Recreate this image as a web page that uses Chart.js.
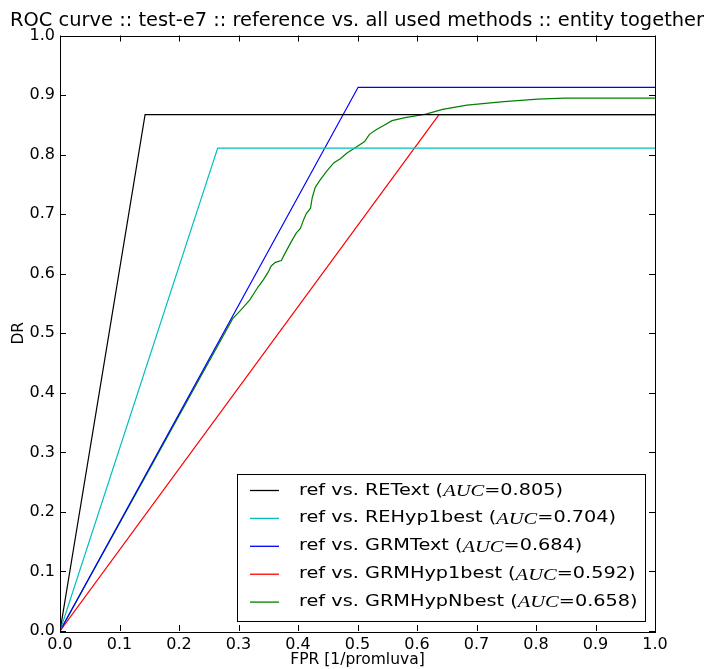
<!DOCTYPE html>
<html>
<head>
<meta charset="utf-8">
<script src="https://cdn.jsdelivr.net/npm/chart.js@4.4.1/dist/chart.umd.min.js"></script>
<style>
html,body{margin:0;padding:0;background:#fff;}
#wrap{width:704px;height:669px;}
</style>
</head>
<body>
<div id="wrap"><canvas id="c" width="704" height="669"></canvas></div>
<script>
// ---- data ----
const titleText = "ROC curve :: test-e7 :: reference vs. all used methods :: entity together";
const xAxisLabel = "FPR [1/promluva]";
const yAxisLabel = "DR";
const seriesNames = ["ref vs. REText", "ref vs. REHyp1best", "ref vs. GRMText", "ref vs. GRMHyp1best", "ref vs. GRMHypNbest"];
const aucValues = ["0.805", "0.704", "0.684", "0.592", "0.658"];
const seriesColors = ["#000000", "#00bfbf", "#0000ff", "#ff0000", "#008000"];

const reTextFpr = [0, 0.143, 1.0];
const reTextDr  = [0, 0.867, 0.867];
const reHyp1Fpr = [0, 0.265, 1.0];
const reHyp1Dr  = [0, 0.811, 0.811];
const grmTextFpr = [0, 0.501, 1.0];
const grmTextDr  = [0, 0.913, 0.913];
const grmHyp1Fpr = [0, 0.637, 1.0];
const grmHyp1Dr  = [0, 0.867, 0.867];
const grmHypNFpr = [0, 0.290, 0.305, 0.319, 0.333, 0.342, 0.350, 0.355, 0.362, 0.372, 0.377, 0.384, 0.390, 0.397, 0.404, 0.410, 0.414, 0.421, 0.424, 0.429, 0.437, 0.448, 0.460, 0.471, 0.483, 0.500, 0.512, 0.520, 0.532, 0.544, 0.558, 0.580, 0.615, 0.643, 0.684, 0.746, 0.803, 0.848, 1.0];
const grmHypNDr  = [0, 0.524, 0.540, 0.556, 0.578, 0.590, 0.603, 0.613, 0.619, 0.622, 0.632, 0.645, 0.656, 0.668, 0.676, 0.692, 0.701, 0.710, 0.728, 0.745, 0.757, 0.772, 0.786, 0.793, 0.803, 0.814, 0.822, 0.834, 0.842, 0.849, 0.857, 0.862, 0.868, 0.876, 0.883, 0.889, 0.893, 0.895, 0.895];

const seriesFpr = [reTextFpr, reHyp1Fpr, grmTextFpr, grmHyp1Fpr, grmHypNFpr];
const seriesDr  = [reTextDr, reHyp1Dr, grmTextDr, grmHyp1Dr, grmHypNDr];

// ---- chart ----
const datasets = seriesNames.map((name, i) => ({
  label: name,
  data: seriesFpr[i].map((x, j) => ({x: x, y: seriesDr[i][j]})),
  borderColor: seriesColors[i],
  backgroundColor: seriesColors[i],
  borderWidth: 1.2,
  pointRadius: 0,
  tension: 0,
  fill: false
}));

const frameTicks = {
  id: 'frameTicks',
  afterDatasetsDraw(chart) {
    const {ctx, chartArea: a, scales} = chart;
    const L = 6;
    ctx.save();
    ctx.strokeStyle = '#000';
    ctx.lineWidth = 1;
    ctx.beginPath();
    scales.x.ticks.forEach(t => {
      const px = Math.round(scales.x.getPixelForValue(t.value)) + 0.5;
      ctx.moveTo(px, a.bottom); ctx.lineTo(px, a.bottom - L);
      ctx.moveTo(px, a.top); ctx.lineTo(px, a.top + L);
    });
    scales.y.ticks.forEach(t => {
      const py = Math.round(scales.y.getPixelForValue(t.value)) + 0.5;
      ctx.moveTo(a.left, py); ctx.lineTo(a.left + L, py);
      ctx.moveTo(a.right, py); ctx.lineTo(a.right - L, py);
    });
    ctx.stroke();
    ctx.strokeRect(Math.round(a.left) + 0.5, Math.round(a.top) + 0.5, Math.round(a.right - a.left), Math.round(a.bottom - a.top));
    // legend
    const bx = 237.5, by = 474.5, bw = 408, bh = 147;
    ctx.fillStyle = '#fff';
    ctx.fillRect(bx, by, bw, bh);
    ctx.strokeRect(bx, by, bw, bh);
    const rowY0 = 490.5, rowStep = 27.9;
    const sansFont = '15.5px "DejaVu Sans"';
    const mathFont = 'italic 16.5px "Liberation Serif"';
    const pieces = i => [[seriesNames[i] + ' (', sansFont, 0], ['AUC', mathFont, 1], ['=' + aucValues[i] + ')', sansFont, 0]];
    const widthOf = i => pieces(i).reduce((w, p) => { ctx.font = p[1]; return w + ctx.measureText(p[0]).width; }, 0);
    const sx = 264 / widthOf(0);
    ctx.textBaseline = 'middle';
    ctx.textAlign = 'left';
    chart.data.datasets.forEach((ds, i) => {
      const y = rowY0 + i * rowStep;
      ctx.strokeStyle = ds.borderColor;
      ctx.lineWidth = 1.3;
      ctx.beginPath(); ctx.moveTo(250, y); ctx.lineTo(279, y); ctx.stroke();
      ctx.save();
      ctx.translate(299, y);
      ctx.scale(sx, 1);
      ctx.fillStyle = '#000';
      let x = 0;
      pieces(i).forEach(p => {
        ctx.font = p[1];
        ctx.fillText(p[0], x, p[2]);
        x += ctx.measureText(p[0]).width;
      });
      ctx.restore();
    });
    ctx.restore();
  }
};

new Chart(document.getElementById('c'), {
  type: 'line',
  data: {datasets},
  options: {
    responsive: false,
    animation: false,
    devicePixelRatio: 1,
    layout: {padding: {left: 10, right: 0, top: 0, bottom: 0}},
    plugins: {
      legend: {display: false},
      tooltip: {enabled: false},
      title: {
        display: true,
        text: titleText,
        color: '#000',
        font: {family: '"DejaVu Sans"', size: 19.75, weight: 'normal', lineHeight: 1.2},
        padding: {top: 9.5, bottom: 2.3}
      }
    },
    scales: {
      x: {
        type: 'linear', min: 0, max: 1,
        grid: {display: false, drawTicks: false},
        border: {display: false},
        ticks: {stepSize: 0.1, color: '#000', padding: 4, maxRotation: 0,
          font: {family: '"DejaVu Sans"', size: 16},
          callback: v => v.toFixed(1)},
        title: {display: true, text: xAxisLabel, color: '#000',
          font: {family: '"DejaVu Sans"', size: 15.5}, padding: {top: 0, bottom: 0}},
        afterFit: s => { s.height = 38; }
      },
      y: {
        type: 'linear', min: 0, max: 1,
        grid: {display: false, drawTicks: false},
        border: {display: false},
        ticks: {stepSize: 0.1, color: '#000', padding: 5,
          font: {family: '"DejaVu Sans"', size: 16},
          callback: v => v.toFixed(1)},
        title: {display: true, text: yAxisLabel, color: '#000',
          font: {family: '"DejaVu Sans"', size: 15.5}, padding: {top: 0, bottom: 0}},
        afterFit: s => { s.width = 50; }
      },
      yRight: {
        type: 'linear', position: 'right', min: 0, max: 1,
        grid: {display: false, drawTicks: false},
        border: {display: false},
        ticks: {display: false},
        afterFit: s => { s.width = 49; }
      }
    }
  },
  plugins: [frameTicks]
});
</script>
</body>
</html>
